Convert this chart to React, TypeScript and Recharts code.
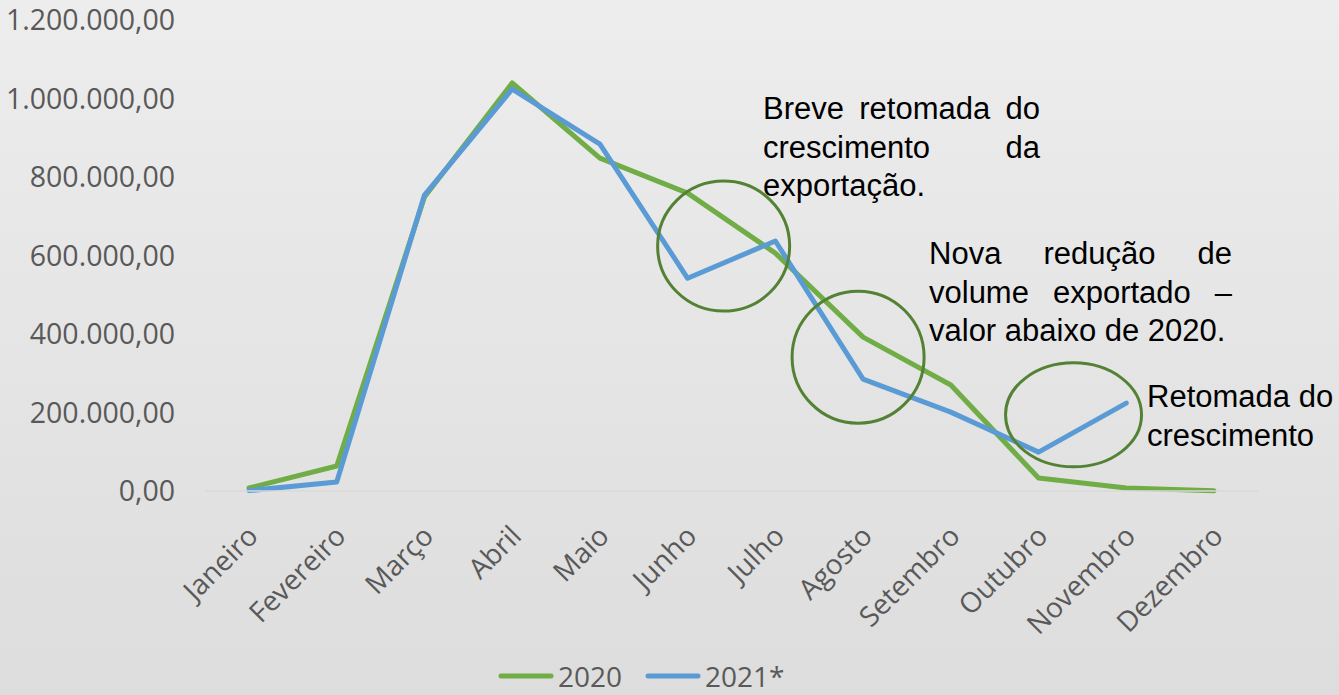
import { LineChart, Line, XAxis, YAxis, ReferenceDot, Legend } from 'recharts'

const months = ['Janeiro', 'Fevereiro', 'Março', 'Abril', 'Maio', 'Junho', 'Julho', 'Agosto', 'Setembro', 'Outubro', 'Novembro', 'Dezembro']
const exports2020 = [7600, 63700, 749000, 1039500, 848000, 759000, 606000, 392000, 270000, 33000, 7600, 500]
const exports2021 = [1000, 23000, 754000, 1024000, 884000, 542000, 637000, 285000, 201000, 99000, 224000, null]
const yTicks = [0, 200000, 400000, 600000, 800000, 1000000, 1200000]

const data = months.map((m, i) => ({ month: m, y2020: exports2020[i], y2021: exports2021[i] }))

// circles drawn around the highlighted stretches (anchor month + value, px offset)
const highlights = [
  { month: 'Junho', value: 624000, dx: 36, rx: 66, ry: 65 },
  { month: 'Agosto', value: 341000, dx: -5, rx: 66, ry: 66 },
  { month: 'Outubro', value: 194000, dx: 35, rx: 68, ry: 52 },
]

const GREEN = '#70ad47'
const BLUE = '#5b9bd5'
const CIRCLE = '#548235'
const AXIS_TEXT = '#595959'
const FONT = '"Open Sans", sans-serif'
const NOTE_FONT = '"Liberation Sans", Arial, sans-serif'

function formatBR(v: number) {
  const int = Math.round(v).toString().replace(/\B(?=(\d{3})+(?!\d))/g, '.')
  return int + ',00'
}

function MonthTick({ x, y, payload }: any) {
  const tx = x + 3
  const ty = y + 39
  return (
    <text
      x={tx}
      y={ty}
      transform={`rotate(-45, ${tx}, ${ty})`}
      textAnchor="end"
      dominantBaseline="central"
      fill={AXIS_TEXT}
      fontSize={28}
      fontFamily={FONT}
    >
      {payload.value}
    </text>
  )
}

function LegendContent() {
  const items = [
    { label: '2020', color: GREEN },
    { label: '2021*', color: BLUE },
  ]
  return (
    <div style={{ display: 'flex', alignItems: 'center', height: 38, paddingLeft: 498 }}>
      {items.map((it) => (
        <div key={it.label} style={{ display: 'flex', alignItems: 'center', marginRight: 23 }}>
          <svg width={56} height={8}>
            <line x1={3} y1={4} x2={53} y2={4} stroke={it.color} strokeWidth={5} strokeLinecap="round" />
          </svg>
          <span style={{ marginLeft: 4, fontFamily: FONT, fontSize: 28, color: AXIS_TEXT, lineHeight: '28px' }}>
            {it.label}
          </span>
        </div>
      ))}
    </div>
  )
}

const noteStyle = {
  position: 'absolute' as const,
  fontFamily: NOTE_FONT,
  fontSize: 31,
  lineHeight: '38.5px',
  color: '#000',
  textAlign: 'justify' as const,
}

export default function App() {
  return (
    <div
      style={{
        position: 'absolute',
        left: 0,
        top: 0,
        width: 1339,
        height: 695,
        background: 'linear-gradient(#ededed, #dddddd)',
        overflow: 'hidden',
      }}
    >
      <LineChart width={1339} height={695} data={data} margin={{ top: 20, right: 81, bottom: 0, left: 0 }}>
        <XAxis
          dataKey="month"
          interval={0}
          height={166}
          tickLine={false}
          tickSize={0}
          tickMargin={0}
          padding={{ left: 44, right: 44 }}
          axisLine={{ stroke: '#d9d9d9', strokeWidth: 1.5 }}
          tick={<MonthTick />}
        />
        <YAxis
          width={205}
          domain={[0, 1200000]}
          ticks={yTicks}
          axisLine={false}
          tickLine={false}
          tickSize={0}
          tickMargin={30}
          tickFormatter={formatBR}
          tick={{ fill: AXIS_TEXT, fontSize: 28.5, fontFamily: FONT }}
        />
        <Legend
          verticalAlign="bottom"
          wrapperStyle={{ left: 0, width: 1339 }}
          content={() => <LegendContent />}
        />
        <Line
          type="linear"
          dataKey="y2020"
          name="2020"
          stroke={GREEN}
          strokeWidth={5}
          strokeLinecap="round"
          strokeLinejoin="round"
          dot={false}
          isAnimationActive={false}
        />
        <Line
          type="linear"
          dataKey="y2021"
          name="2021*"
          stroke={BLUE}
          strokeWidth={5}
          strokeLinecap="round"
          strokeLinejoin="round"
          dot={false}
          isAnimationActive={false}
        />
        {highlights.map((h) => (
          <ReferenceDot
            key={h.month}
            x={h.month}
            y={h.value}
            r={h.rx}
            shape={(p: any) => (
              <ellipse cx={p.cx + h.dx} cy={p.cy} rx={h.rx} ry={h.ry} fill="none" stroke={CIRCLE} strokeWidth={3} />
            )}
          />
        ))}
      </LineChart>

      <div style={{ ...noteStyle, left: 763, top: 90, width: 277 }}>
        Breve retomada do crescimento da exportação.
      </div>
      <div style={{ ...noteStyle, left: 929, top: 235, width: 303 }}>
        Nova redução de volume exportado – valor abaixo de 2020.
      </div>
      <div style={{ ...noteStyle, left: 1147, top: 378, textAlign: 'left', whiteSpace: 'nowrap' }}>
        Retomada do
        <br />
        crescimento
      </div>
    </div>
  )
}
